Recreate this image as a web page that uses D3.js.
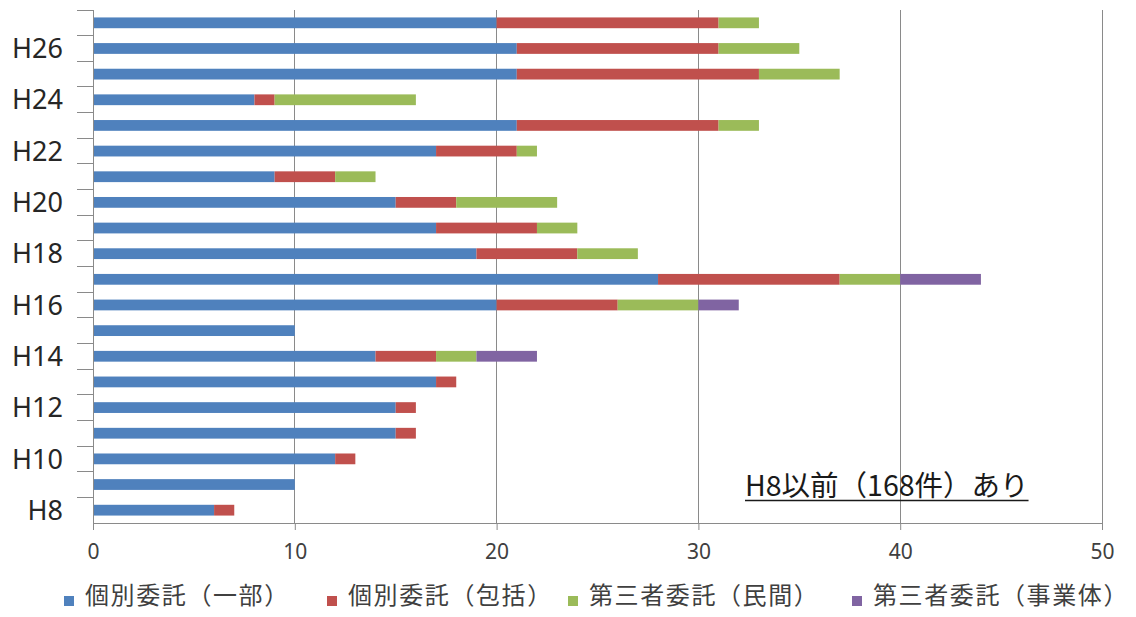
<!DOCTYPE html>
<html>
<head>
<meta charset="utf-8">
<script src="https://cdn.jsdelivr.net/npm/d3@7"></script>
<style>
  html, body { margin: 0; padding: 0; background: #ffffff; }
  svg { display: block; }
</style>
</head>
<body>
<svg id="chart" width="1136" height="617"></svg>
<script>
// ---- data (bottom to top) ----
const categories = ["H8","H9","H10","H11","H12","H13","H14","H15","H16","H17","H18","H19","H20","H21","H22","H23","H24","H25","H26","H27"];
const kobetsuIchibu  = [6,10,12,15,15,17,14,10,20,28,19,17,15,9,17,21,8,21,21,20];
const kobetsuHokatsu = [1,0,1,1,1,1,3,0,6,9,5,5,3,3,4,10,1,12,10,11];
const daisanMinkan   = [0,0,0,0,0,0,2,0,4,3,3,2,5,2,1,2,7,4,4,2];
const daisanJigyotai = [0,0,0,0,0,0,3,0,2,4,0,0,0,0,0,0,0,0,0,0];
const seriesNames = ["個別委託（一部）","個別委託（包括）","第三者委託（民間）","第三者委託（事業体）"];
const xTicks = [0,10,20,30,40,50];
const yTickLabels = ["H8","H10","H12","H14","H16","H18","H20","H22","H24","H26"];
const annotation = "H8以前（168件）あり";

(function () {
const colors = ["#4F81BD","#C0504D","#9BBB59","#8064A2"];
const seriesData = [kobetsuIchibu, kobetsuHokatsu, daisanMinkan, daisanJigyotai];

const rows = categories.map((c, i) => {
  const r = { cat: c };
  seriesNames.forEach((s, k) => r[s] = seriesData[k][i]);
  return r;
});

const svg = d3.select("#chart");
const pLeft = 93, pRight = 1102, pTop = 10, pBottom = 523;

const x = d3.scaleLinear().domain([0, 50]).range([pLeft, pRight]);
const y = d3.scaleBand().domain(categories).range([pBottom, pTop]).paddingInner(0.58).paddingOuter(0.29);
const band = d3.scaleBand().domain(categories).range([pBottom, pTop]);

const latin = "'Noto Sans', 'DejaVu Sans', sans-serif";
const cjk = "'Noto Sans CJK JP', 'Noto Sans', sans-serif";

// gridlines
svg.append("g")
  .selectAll("line")
  .data(xTicks.filter(d => d > 0))
  .join("line")
  .attr("x1", d => x(d)).attr("x2", d => x(d))
  .attr("y1", pTop).attr("y2", pBottom)
  .attr("stroke", "#8a8a8a").attr("stroke-width", 1)
  .attr("shape-rendering", "crispEdges");

// stacked bars
const stacked = d3.stack().keys(seriesNames)(rows);
svg.append("g")
  .selectAll("g")
  .data(stacked)
  .join("g")
  .attr("fill", (d, i) => colors[i])
  .selectAll("rect")
  .data(d => d)
  .join("rect")
  .attr("x", d => x(d[0]))
  .attr("width", d => Math.max(0, x(d[1]) - x(d[0])))
  .attr("y", d => y(d.data.cat))
  .attr("height", y.bandwidth());

// x axis
const xAxis = d3.axisBottom(x).tickValues(xTicks).tickSize(7).tickPadding(14).tickFormat(d3.format("d"));
const gx = svg.append("g").attr("transform", `translate(0,${pBottom})`).call(xAxis);
gx.select(".domain").attr("stroke", "#8a8a8a");
gx.selectAll(".tick line").attr("stroke", "#8a8a8a");
gx.selectAll("text").attr("font-family", latin).attr("font-size", 21).attr("fill", "#404040");

// y axis line + ticks at band boundaries
svg.append("line")
  .attr("x1", pLeft).attr("x2", pLeft).attr("y1", pTop).attr("y2", pBottom)
  .attr("stroke", "#8a8a8a").attr("shape-rendering", "crispEdges");
svg.append("g")
  .selectAll("line")
  .data(categories)
  .join("line")
  .attr("x1", pLeft - 16).attr("x2", pLeft)
  .attr("y1", d => band(d)).attr("y2", d => band(d))
  .attr("stroke", "#8a8a8a").attr("shape-rendering", "crispEdges");

// y labels (every other category)
svg.append("g")
  .selectAll("text")
  .data(yTickLabels)
  .join("text")
  .attr("x", 63)
  .attr("y", d => y(d) + y.bandwidth() / 2)
  .attr("dy", "0.36em")
  .attr("text-anchor", "end")
  .attr("font-family", latin)
  .attr("font-size", 27)
  .attr("fill", "#262626")
  .text(d => d);

// annotation
const ann = svg.append("text")
  .attr("x", 745).attr("y", 496)
  .attr("font-family", cjk).attr("font-size", 28.5)
  .attr("fill", "#1a1a1a")
  .text(annotation);
const annW = ann.node().getComputedTextLength();
svg.append("line")
  .attr("x1", 745).attr("x2", 745 + annW)
  .attr("y1", 500.5).attr("y2", 500.5)
  .attr("stroke", "#1a1a1a").attr("stroke-width", 1.6);

// legend
const legendX = [64, 327, 568, 852];
const lg = svg.append("g").selectAll("g")
  .data(seriesNames)
  .join("g")
  .attr("transform", (d, i) => `translate(${legendX[i]},0)`);
lg.append("rect")
  .attr("x", 0).attr("y", 596).attr("width", 10).attr("height", 10)
  .attr("fill", (d, i) => colors[i]);
lg.append("text")
  .attr("x", 21).attr("y", 604)
  .attr("font-family", cjk).attr("font-size", 24)
  .attr("letter-spacing", 1.6)
  .attr("fill", "#404040")
  .text(d => d);
})();
</script>
</body>
</html>
